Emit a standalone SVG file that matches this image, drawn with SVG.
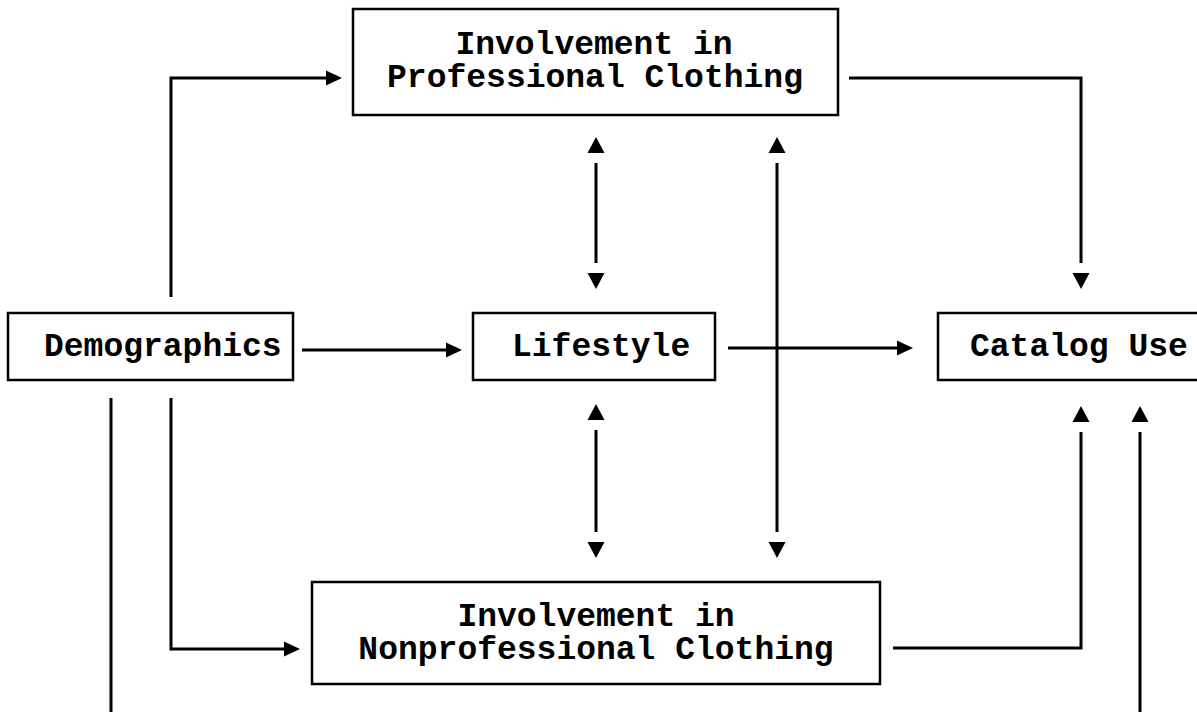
<svg xmlns="http://www.w3.org/2000/svg" width="1197" height="712" viewBox="0 0 1197 712">
<defs>
<style>
.box{fill:#fff;stroke:#000;stroke-width:2.5}
.t{font-family:"Liberation Mono","Courier New",monospace;font-weight:bold;font-size:33px;fill:#000}
.c{fill:none;stroke:#000;stroke-width:3}
</style>
<marker id="gap" markerUnits="userSpaceOnUse" markerWidth="30" markerHeight="20" refX="0" refY="9" orient="auto-start-reverse" overflow="visible">
<path d="M10,0.5 L26,9 L10,17.5 Z" fill="#000"/>
</marker>
<marker id="tip" markerUnits="userSpaceOnUse" markerWidth="20" markerHeight="20" refX="1" refY="8" orient="auto" overflow="visible">
<path d="M0,0.5 L16,8 L0,15.5 Z" fill="#000"/>
</marker>
</defs>
<rect width="1197" height="712" fill="#fff"/>
<g id="connectors">
<path class="c" d="M171,297 V78 H327" marker-end="url(#tip)"/>
<path class="c" d="M849,78 H1081 V263" marker-end="url(#gap)"/>
<path class="c" d="M302,350 H447" marker-end="url(#tip)"/>
<path class="c" d="M728,348 H898" marker-end="url(#tip)"/>
<path class="c" d="M596,163 V263" marker-start="url(#gap)" marker-end="url(#gap)"/>
<path class="c" d="M777,163 V532" marker-start="url(#gap)" marker-end="url(#gap)"/>
<path class="c" d="M596,430 V532" marker-start="url(#gap)" marker-end="url(#gap)"/>
<path class="c" d="M171,398 V649 H285" marker-end="url(#tip)"/>
<path class="c" d="M111,398 V712"/>
<path class="c" d="M893,648 H1081 V432" marker-end="url(#gap)"/>
<path class="c" d="M1140,712 V432" marker-end="url(#gap)"/>
</g>
<g id="node-prof">
<rect class="box" x="353" y="9" width="485" height="106"/>
<text class="t" x="594" y="54" text-anchor="middle">Involvement in</text>
<text class="t" x="595" y="87" text-anchor="middle">Professional Clothing</text>
</g>
<g id="node-demo">
<rect class="box" x="8" y="313" width="285" height="67"/>
<text class="t" x="44" y="356">Demographics</text>
</g>
<g id="node-life">
<rect class="box" x="473" y="313" width="242" height="67"/>
<text class="t" x="512" y="356">Lifestyle</text>
</g>
<g id="node-cat">
<rect class="box" x="938" y="313" width="270" height="67"/>
<text class="t" x="970" y="356">Catalog Use</text>
</g>
<g id="node-nonprof">
<rect class="box" x="312" y="582" width="568" height="102"/>
<text class="t" x="596" y="626" text-anchor="middle">Involvement in</text>
<text class="t" x="596" y="659" text-anchor="middle">Nonprofessional Clothing</text>
</g>
</svg>
